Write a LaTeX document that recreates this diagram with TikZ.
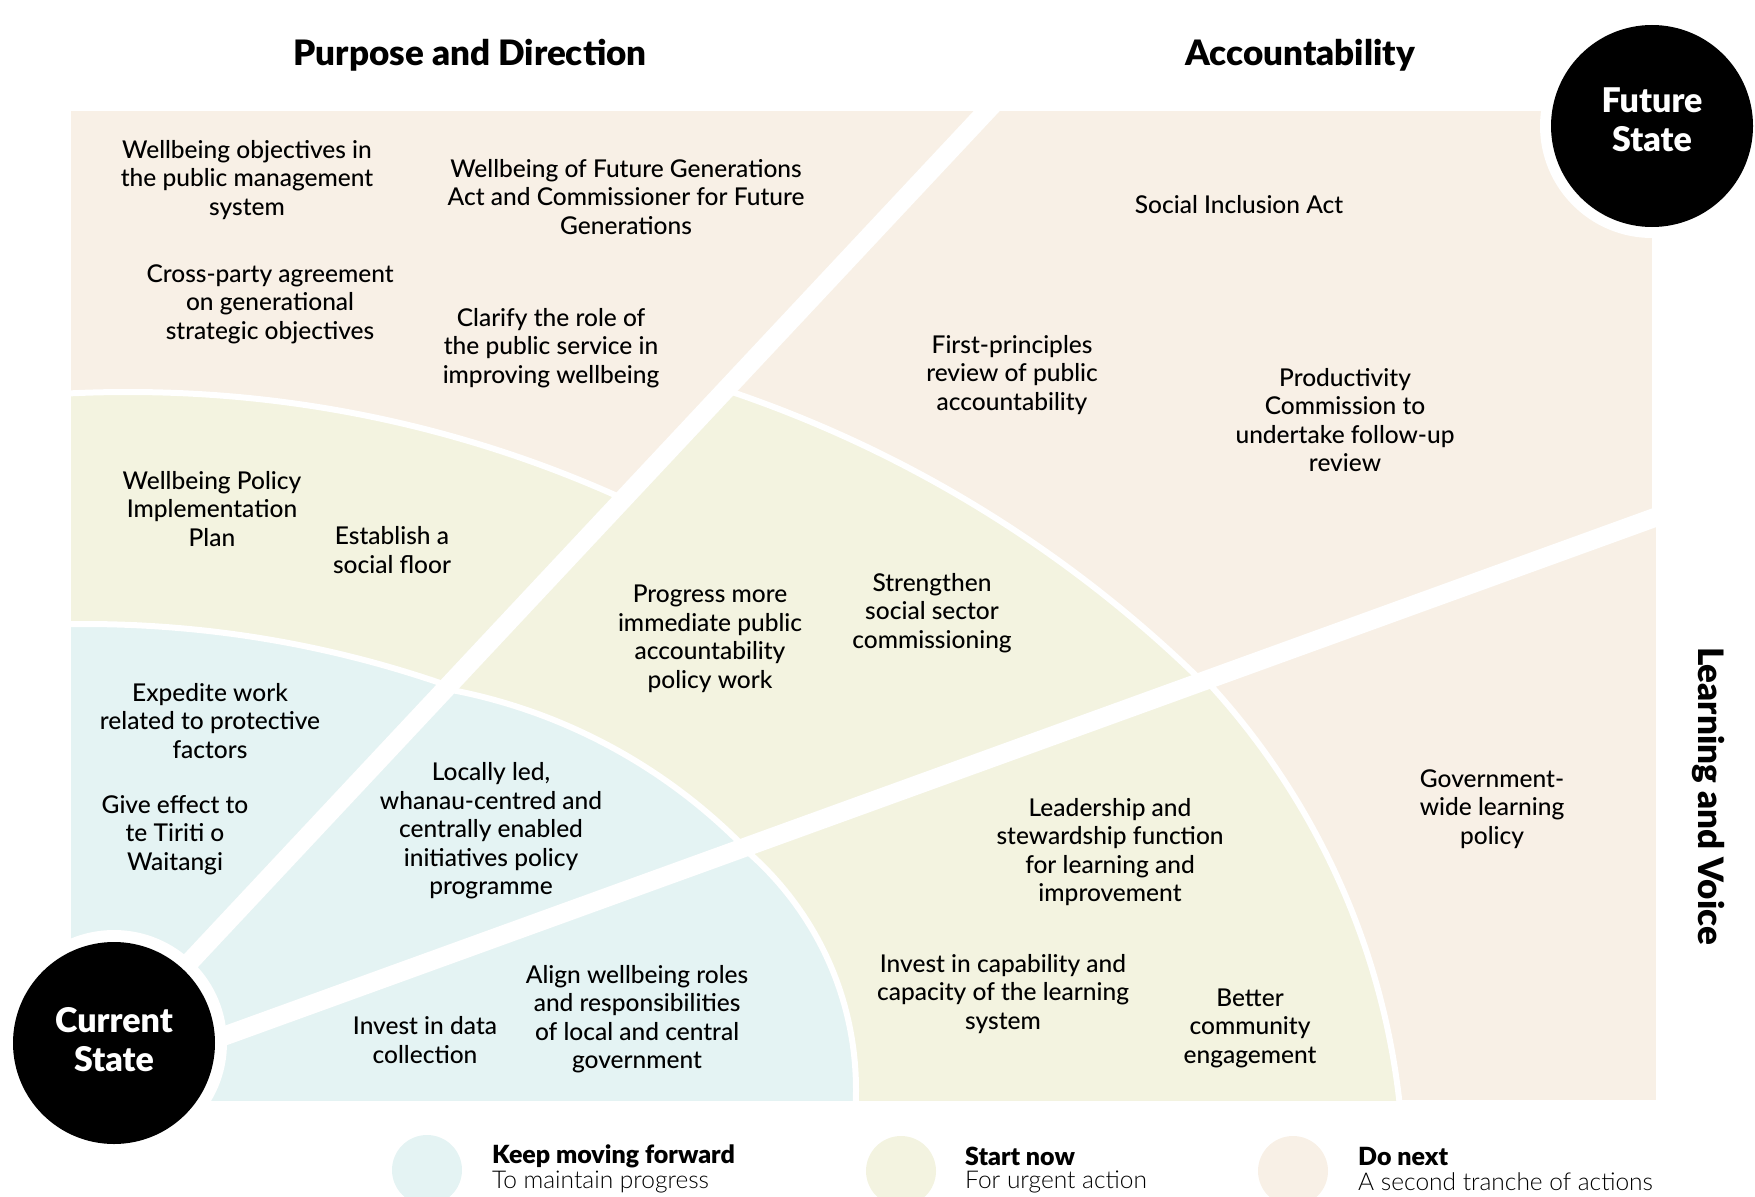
\documentclass[tikz,border=0pt]{standalone}
\usepackage{fontspec}
\setmainfont{Lato}
\newfontfamily\bodyfont{Lato Medium}
\newfontfamily\headfont{Lato Black}
\newfontfamily\lightfont{Lato Light}
\definecolor{peach}{RGB}{248,240,230}
\definecolor{sage}{RGB}{243,243,224}
\definecolor{aqua}{RGB}{228,243,243}
\begin{document}
\begin{tikzpicture}[x=1pt,y=-1pt,
  item/.style={align=center,inner sep=0pt,font=\bodyfont\fontsize{24.5}{28.5}\selectfont},
  head/.style={inner sep=0pt,font=\headfont\fontsize{35}{40}\selectfont},
  statecirc/.style={circle,fill=black,minimum size=202pt,inner sep=0pt},
  statetxt/.style={inner sep=0pt,align=center,text=white,font=\headfont\fontsize{34}{39}\selectfont},
  gap/.style={draw=white,line width=6pt},
  ray/.style={draw=white,line width=19pt},
  legtitle/.style={anchor=west,inner sep=0pt,font=\headfont\fontsize{25}{28}\selectfont},
  legsub/.style={anchor=west,inner sep=0pt,font=\lightfont\fontsize{24.5}{28}\selectfont},
]
\useasboundingbox (0,0) rectangle (1755,1196);
\coordinate (O) at (67,1093);
\coordinate (R1) at (997,100);
\coordinate (R2) at (1670,512);
\begin{scope}
  \clip (71,111) rectangle (1656,1100);
  \fill[peach] (71,111) rectangle (1656,1100);
  % sector 1
  \begin{scope}
    \clip (O) -- (R1) -- (60,100) -- (60,1110) -- cycle;
    \fill[sage] (128,1591) circle (1199);
    \draw[gap] (128,1591) circle (1199);
    \fill[aqua] (84,1723) circle (1099);
    \draw[gap] (84,1723) circle (1099);
  \end{scope}
  % sector 2
  \begin{scope}
    \clip (O) -- (R1) -- (1670,100) -- (R2) -- cycle;
    \fill[sage] (331,1571) circle (1245);
    \draw[gap] (331,1571) circle (1245);
    \fill[aqua] (346,1238) circle (558);
    \draw[gap] (346,1238) circle (558);
    \fill[white] (1652,100) rectangle (1670,540);
  \end{scope}
  % sector 3
  \begin{scope}
    \clip (O) -- (R2) -- (1670,1110) -- (60,1110) -- cycle;
    \fill[sage] (662,1185) circle (742);
    \draw[gap] (662,1185) circle (742);
    \fill[aqua] (540,1090) circle (316);
    \fill[aqua] (60,700) rectangle (540,1110);
    \begin{scope}
      \clip (540,600) rectangle (1000,1110);
      \draw[gap] (540,1090) circle (316);
    \end{scope}
  \end{scope}
\end{scope}
\draw[ray] (O) -- (R1);
\draw[ray] (O) -- (R2);

% state circles
\fill[white] (1652,126) circle (112);
\node[statecirc] (future) at (1652,126) {};
\node[statetxt] (futuretxt) at (1652,120) {Future\\State};
\fill[white] (114,1043) circle (113);
\node[statecirc] (current) at (114,1043) {};
\node[statetxt] (currenttxt) at (114,1040) {Current\\State};

% headings
\node[head] (hpd) at (470,55) {Purpose and Direction};
\node[head] (hacc) at (1300,55) {Accountability};
\node[head,rotate=-90] (hlv) at (1709,796) {Learning and Voice};

% items
\node[item] (t1) at (247,180) {Wellbeing objectives in\\the public management\\system};
\node[item] (t2) at (626,197) {Wellbeing of Future Generations\\Act and Commissioner for Future\\Generations};
\node[item] (t3) at (270,304) {Cross-party agreement\\on generational\\strategic objectives};
\node[item] (t4) at (551,348) {Clarify the role of\\the public service in\\improving wellbeing};
\node[item] (t5) at (1239,205) {Social Inclusion Act};
\node[item] (t6) at (1012,375) {First-principles\\review of public\\accountability};
\node[item] (t7) at (1345,420) {Productivity\\Commission to\\undertake follow-up\\review};
\node[item] (t8) at (212,509) {Wellbeing Policy\\Implementation\\Plan};
\node[item] (t9) at (392,550) {Establish a\\social floor};
\node[item] (t10) at (710,639) {Progress more\\immediate public\\accountability\\policy work};
\node[item] (t11) at (932,613) {Strengthen\\social sector\\commissioning};
\node[item] (t12) at (210,721) {Expedite work\\related to protective\\factors};
\node[item] (t13) at (175,835) {Give effect to\\te Tiriti o\\Waitangi};
\node[item] (t14) at (491,831) {Locally led,\\whanau-centred and\\centrally enabled\\initiatives policy\\programme};
\node[item] (t15) at (1110,852) {Leadership and\\stewardship function\\for learning and\\improvement};
\node[item] (t16) at (1492,809) {Government-\\wide learning\\policy};
\node[item] (t17) at (1003,994) {Invest in capability and\\capacity of the learning\\system};
\node[item] (t18) at (1250,1028) {Better\\community\\engagement};
\node[item] (t19) at (425,1040) {Invest in data\\collection};
\node[item] (t20) at (637,1019) {Align wellbeing roles\\and responsibilities\\of local and central\\government};

% legend
\fill[aqua] (427,1170) circle (35);
\fill[sage] (901,1171) circle (35);
\fill[peach] (1293,1171) circle (35);
\node[legtitle] (l1a) at (492,1156) {Keep moving forward};
\node[legsub] (l1b) at (492,1182) {To maintain progress};
\node[legtitle] (l2a) at (965,1156) {Start now};
\node[legsub] (l2b) at (965,1182) {For urgent action};
\node[legtitle] (l3a) at (1358,1156) {Do next};
\node[legsub] (l3b) at (1358,1182) {A second tranche of actions};
\end{tikzpicture}
\end{document}
